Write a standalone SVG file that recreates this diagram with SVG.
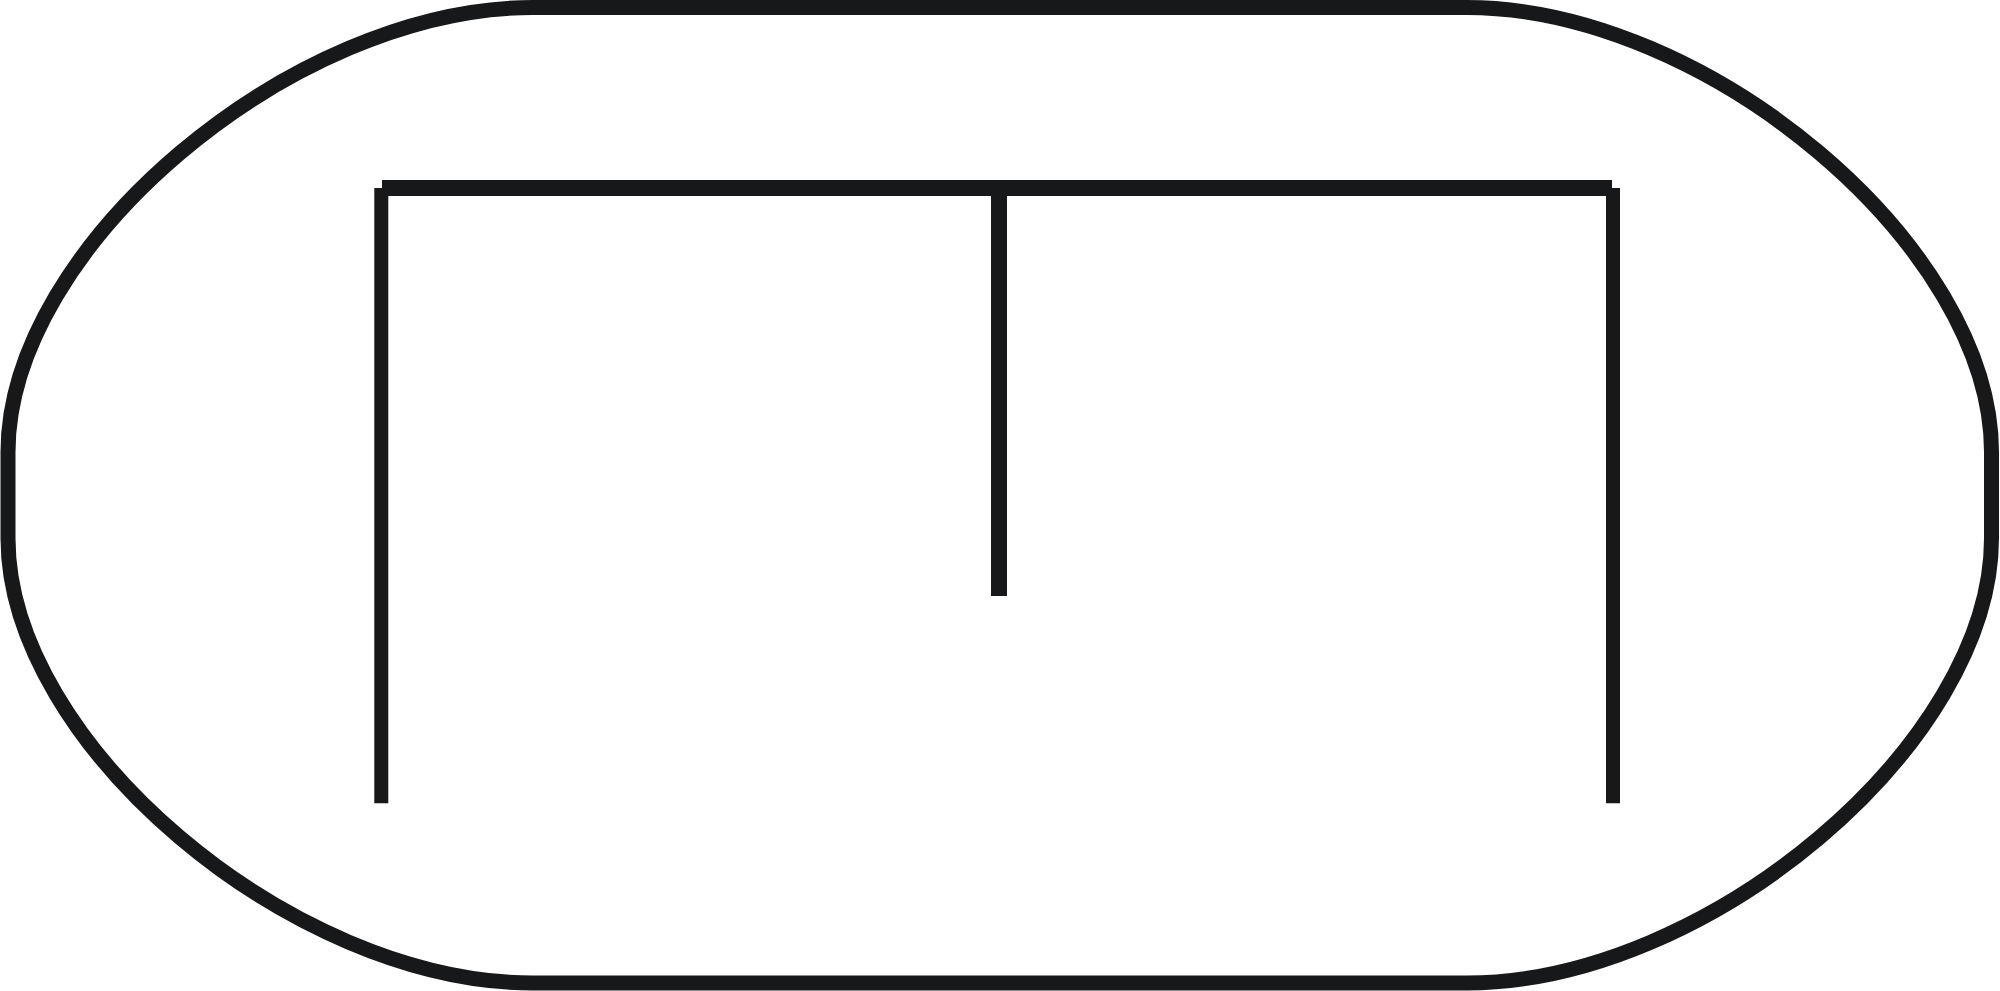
<svg xmlns="http://www.w3.org/2000/svg" width="2000" height="991" viewBox="0 0 2000 991">
<style>
.ln{stroke:#16181a;fill:none;stroke-linecap:butt;stroke-linejoin:round}
</style>
<rect width="2000" height="991" fill="#ffffff"/>
<g id="outline">
<path class="ln" stroke-width="15" d="M 533 7.5 H 1466.5 C 1708 7.5 1991.5 247.3 1991.5 452 V 538.5 C 1991.5 743.2 1708 983 1466.5 983 H 533 C 291.5 983 8 743.2 8 538.5 V 452 C 8 247.3 291.5 7.5 533 7.5 Z"/>
</g>
<g id="frame">
<line class="ln" x1="382" y1="188" x2="1612" y2="188" stroke-width="16"/>
<line class="ln" x1="381.3" y1="188" x2="381.3" y2="803.3" stroke-width="14"/>
<line class="ln" x1="999" y1="188" x2="999" y2="596" stroke-width="16"/>
<line class="ln" x1="1613" y1="188" x2="1613" y2="803.3" stroke-width="14"/>
</g>
</svg>
